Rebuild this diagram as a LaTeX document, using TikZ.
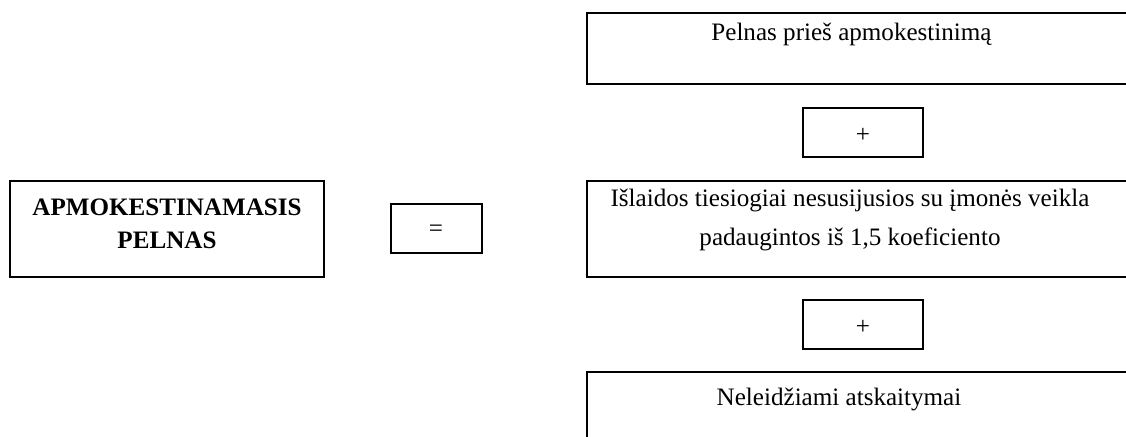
\documentclass[tikz,border=0pt]{standalone}
\usepackage{fontspec}
\setmainfont{Liberation Serif}
\usepackage{tikz}
\usetikzlibrary{fit}
\usetikzlibrary{positioning}
\tikzstyle{frame}=[draw,line width=1pt,inner sep=0pt]
\tikzstyle{txt}=[align=center,inner sep=0pt,font=\fontsize{13.3}{20.2}\selectfont]

\begin{document}
\begin{tikzpicture}[x=0.53pt,y=-0.53pt]
\useasboundingbox (0,0) rectangle (1126,436);
\clip (0,0) rectangle (1126,436);
% left side of the formula
\node [frame, fit={(10,181) (324,277)}] (pelnas) {};
\node [txt, anchor=base, font=\fontsize{13.3}{17.4}\selectfont\bfseries] (pelnasT) at (167,248) {APMOKESTINAMASIS\\PELNAS};
\node [frame, fit={(391,204) (482,253)}] (lygu) {};
\node [txt] (lyguT) at (436,231) {=};
% right column, boxes run past the page edge
\node [frame, fit={(587,12.7) (1150,84.3)}] (pries) {};
\node [txt, anchor=base] (priesT) at (851.5,40) {Pelnas prieš apmokestinimą};
\node [frame, fit={(803,108) (923,157)}] (plius1) {};
\node [txt] (plius1T) at (863,135) {+};
\node [frame, fit={(587,180.7) (1150,276.7)}] (islaidos) {};
\node [txt, anchor=base] (islaidosT) at (850,245) {Išlaidos tiesiogiai nesusijusios su įmonės veikla\\padaugintos iš 1,5 koeficiento};
\node [frame, fit={(803,300) (923,349)}] (plius2) {};
\node [txt] (plius2T) at (863,327) {+};
\node [frame, fit={(587,372) (1150,460)}] (atskaitymai) {};
\node [txt, anchor=base] (atskaitymaiT) at (839,405) {Neleidžiami atskaitymai};
\end{tikzpicture}
\end{document}
